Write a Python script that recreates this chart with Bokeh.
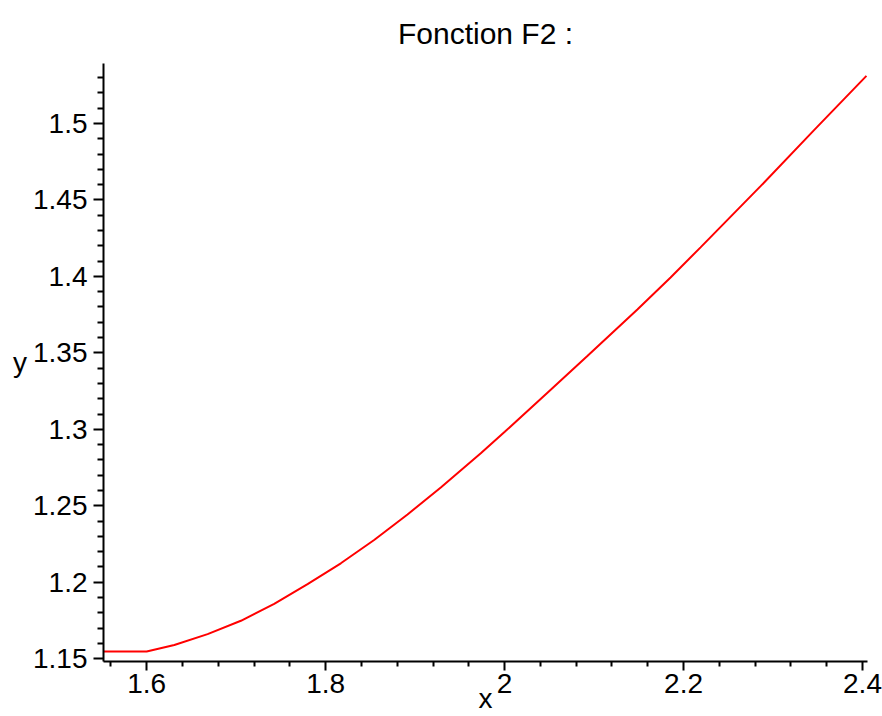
import numpy as np
from bokeh.plotting import figure
from bokeh.models import Range1d, FixedTicker
from bokeh.embed import file_html
from bokeh.resources import INLINE

# Data
xs = [1.5518, 1.6000, 1.6309, 1.6681, 1.7053, 1.7425, 1.7798, 1.8170, 1.8542,
      1.8915, 1.9287, 1.9734, 2.0002, 2.0479, 2.0925, 2.1484, 2.1855, 2.2190,
      2.2861, 2.3456, 2.4044]
ys = [1.1547, 1.1547, 1.1590, 1.1661, 1.1748, 1.1858, 1.1988, 1.2124, 1.2276,
      1.2443, 1.2620, 1.2843, 1.2984, 1.3239, 1.3479, 1.3784, 1.3993, 1.4190,
      1.4590, 1.4955, 1.5311]

x_ticks = [1.6, 1.8, 2.0, 2.2, 2.4]
x_tick_labels = ["1.6", "1.8", "2", "2.2", "2.4"]
y_ticks = [1.15, 1.2, 1.25, 1.3, 1.35, 1.4, 1.45, 1.5]
y_tick_labels = ["1.15", "1.2", "1.25", "1.3", "1.35", "1.4", "1.45", "1.5"]

title_text = "Fonction F2 :"
x_label = "x"
y_label = "y"

X_MIN, X_MAX = 1.55175, 2.40558
Y_MIN, Y_MAX = 1.14817, 1.53922

FONT = "Liberation Sans"

p = figure(width=882, height=716, output_backend="svg", toolbar_location=None,
           x_range=Range1d(X_MIN, X_MAX), y_range=Range1d(Y_MIN, Y_MAX),
           min_border_left=103, min_border_right=15, min_border_top=63,
           min_border_bottom=55, title=title_text)
p.title.align = "center"
p.title.offset = -35
p.title.text_font = FONT
p.title.text_font_size = "30px"
p.title.text_font_style = "normal"
p.title.text_color = "black"
p.title.standoff = 28

p.outline_line_color = None
p.xgrid.visible = False
p.ygrid.visible = False
p.background_fill_color = "white"
p.border_fill_color = "white"

x_minor = [round(v, 2) for v in np.arange(1.56, 2.41, 0.04) if min(abs(v - t) for t in x_ticks) > 1e-6]
y_minor = [round(v, 2) for v in np.arange(1.15, 1.535, 0.01) if min(abs(v - t) for t in y_ticks) > 1e-6]

p.xaxis.ticker = FixedTicker(ticks=x_ticks, minor_ticks=x_minor)
p.yaxis.ticker = FixedTicker(ticks=y_ticks, minor_ticks=y_minor)
p.xaxis.major_label_overrides = {t: l for t, l in zip(x_ticks, x_tick_labels)}
p.yaxis.major_label_overrides = {t: l for t, l in zip(y_ticks, y_tick_labels)}

for ax in (p.xaxis, p.yaxis):
    ax.axis_line_width = 2
    ax.axis_line_color = "black"
    ax.major_tick_line_width = 2
    ax.minor_tick_line_width = 2
    ax.major_tick_line_color = "black"
    ax.minor_tick_line_color = "black"
    ax.major_tick_in = 0
    ax.minor_tick_in = 0
    ax.major_label_text_font = FONT
    ax.major_label_text_font_size = "28px"
    ax.major_label_text_color = "black"
    ax.axis_label_text_font = FONT
    ax.axis_label_text_font_size = "28px"
    ax.axis_label_text_font_style = "normal"
    ax.axis_label_text_color = "black"

p.xaxis.major_tick_out = 9
p.xaxis.minor_tick_out = 5
p.xaxis.major_label_standoff = 3
p.xaxis.axis_label = x_label
p.xaxis.axis_label_standoff = -13

p.yaxis.major_tick_out = 10
p.yaxis.minor_tick_out = 6
p.yaxis.major_label_standoff = 6
p.yaxis.axis_label = y_label
p.yaxis.axis_label_orientation = "horizontal"
p.yaxis.axis_label_standoff = 3

p.line(xs, ys, line_color="#ff0000", line_width=2)

open("out.html", "w").write(file_html(p, INLINE))
